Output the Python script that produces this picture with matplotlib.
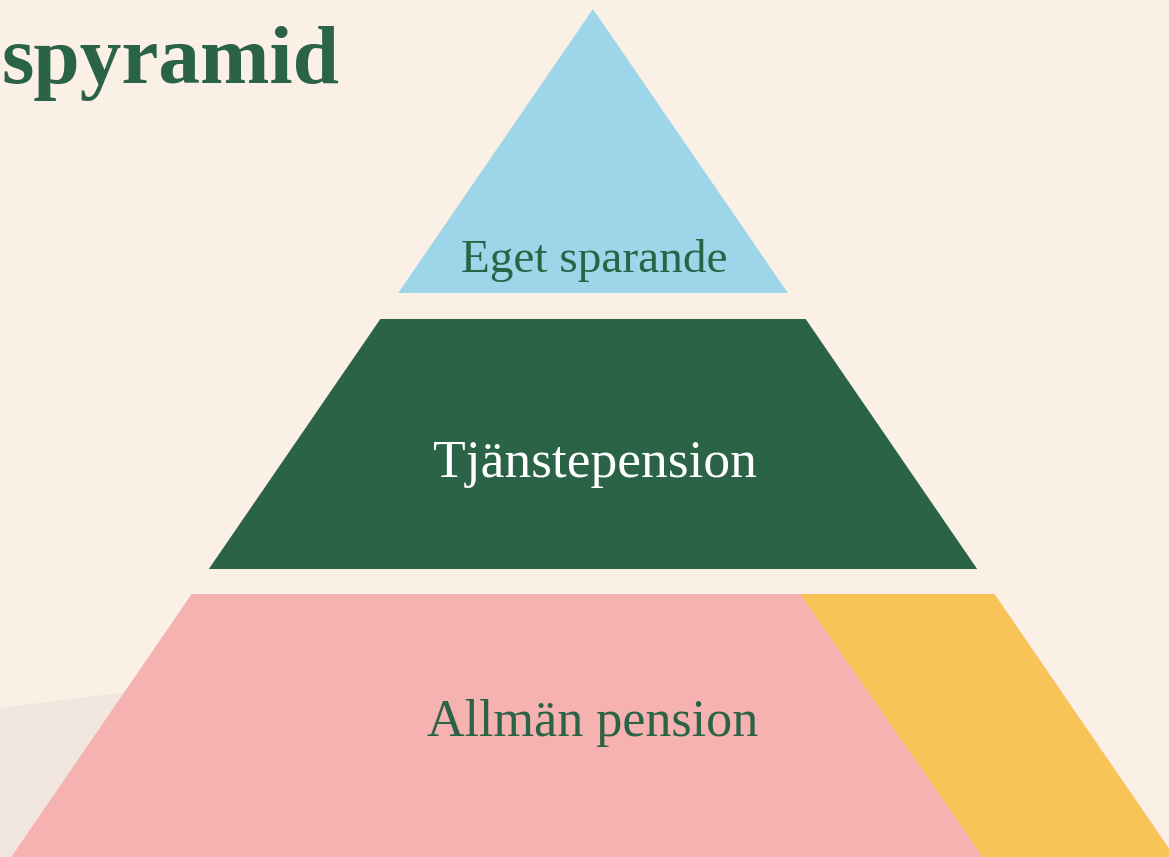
import matplotlib
matplotlib.use("Agg")
import matplotlib.pyplot as plt
from matplotlib.patches import Polygon

# --- content ---
title_text = "spyramid"
tier_labels = ["Eget sparande", "Tjänstepension", "Allmän pension"]
tier_colors = ["#9DD6E9", "#2A6346", "#F6B1B1"]
label_colors = ["#2A6346", "#FFFFFF", "#2A6346"]
accent_color = "#F9C457"
bg_color = "#FBF0E6"
shape_color = "#F0E6DD"
title_color = "#2A6346"

# --- layout (pixel coordinates, y downward) ---
W, H = 1169, 857
apex_x, apex_y = 593, 9
slope = 0.686            # horizontal px per vertical px of the pyramid sides
tier_bands = [(apex_y, 293), (319, 569), (594, 870)]
label_baselines = [272, 477, 736]
label_sizes = [34, 38.5, 37.5]
label_xs = [594, 595, 593]
split_top_x, split_slope = 800, 0.695

def edge(y, side):
    return apex_x + side * slope * (y - apex_y)

fig = plt.figure(figsize=(W / 100, H / 100), dpi=100)
fig.patch.set_facecolor(bg_color)
ax = fig.add_axes([0, 0, 1, 1])
ax.set_xlim(0, W)
ax.set_ylim(H, 0)
ax.axis("off")
ax.set_facecolor(bg_color)

# background soft shape bottom-left
ax.add_patch(Polygon([(0, 708), (500, 645), (500, H + 5), (0, H + 5)],
                     closed=True, facecolor=shape_color, edgecolor="none", zorder=1))

for i, ((y0, y1), col) in enumerate(zip(tier_bands, tier_colors)):
    pts = [(edge(y0, -1), y0), (edge(y0, 1), y0), (edge(y1, 1), y1), (edge(y1, -1), y1)]
    ax.add_patch(Polygon(pts, closed=True, facecolor=col, edgecolor="none", zorder=2))

# yellow accent on bottom tier
y0, y1 = tier_bands[2]
sx0 = split_top_x
sx1 = split_top_x + split_slope * (y1 - y0)
ax.add_patch(Polygon([(sx0, y0), (edge(y0, 1), y0), (edge(y1, 1), y1), (sx1, y1)],
                     closed=True, facecolor=accent_color, edgecolor="none", zorder=3))

serif = ["Liberation Serif", "DejaVu Serif"]
for lab, yb, c, fs, lx in zip(tier_labels, label_baselines, label_colors, label_sizes, label_xs):
    ax.text(lx, yb, lab, ha="center", va="baseline", fontsize=fs,
            family=serif, color=c, zorder=5)

ax.text(1, 83, title_text, ha="left", va="baseline", fontsize=60,
        family=serif, fontweight="bold", color=title_color, zorder=5)

fig.savefig("out.png", dpi=100, facecolor=bg_color)
